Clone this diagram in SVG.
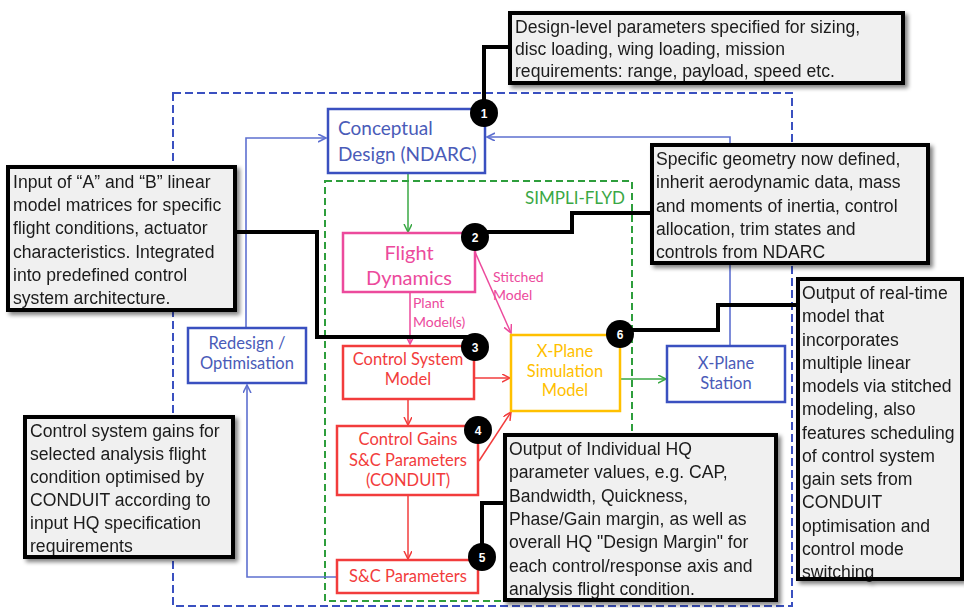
<svg xmlns="http://www.w3.org/2000/svg" width="964" height="608" viewBox="0 0 964 608">
<defs>
<style>
.co{fill:#f0f0f0;stroke:none}
.cob{fill:none;stroke:#000;stroke-width:4}
.ct{font-family:"Liberation Sans",Arial,sans-serif;font-size:17.6px;fill:#1a1a1a}
.lbl{font-family:Lato,"Open Sans",sans-serif;text-anchor:middle}
.bl{fill:none;stroke:#5e70d0;stroke-width:1.6}
.blk{fill:none;stroke:#000;stroke-width:4}
.bd{fill:#000}
.bt{font-family:"Liberation Sans",Arial,sans-serif;font-size:12px;font-weight:bold;fill:#fff;text-anchor:middle}
</style>
<filter id="sh" x="-10%" y="-10%" width="130%" height="130%">
<feGaussianBlur in="SourceAlpha" stdDeviation="2"/>
<feOffset dx="3" dy="3" result="o"/>
<feComponentTransfer><feFuncA type="linear" slope="0.5"/></feComponentTransfer>
<feMerge><feMergeNode/><feMergeNode in="SourceGraphic"/></feMerge>
</filter>
<marker id="aB" markerWidth="10" markerHeight="10" refX="8" refY="4" orient="auto" markerUnits="userSpaceOnUse"><path d="M0,0 L8,4 L0,8" fill="none" stroke="#5e70d0" stroke-width="1.6"/></marker>
<marker id="aG" markerWidth="10" markerHeight="10" refX="8" refY="4" orient="auto" markerUnits="userSpaceOnUse"><path d="M0,0 L8,4 L0,8" fill="none" stroke="#3aa845" stroke-width="1.5"/></marker>
<marker id="aP" markerWidth="10" markerHeight="10" refX="8" refY="4" orient="auto" markerUnits="userSpaceOnUse"><path d="M0,0 L8,4 L0,8" fill="none" stroke="#ec4a9c" stroke-width="1.5"/></marker>
<marker id="aR" markerWidth="10" markerHeight="10" refX="8" refY="4" orient="auto" markerUnits="userSpaceOnUse"><path d="M0,0 L8,4 L0,8" fill="none" stroke="#f23c3c" stroke-width="1.5"/></marker>
</defs>
<rect width="964" height="608" fill="#fff"/>

<g id="frames">
<rect x="173" y="93" width="619" height="513" fill="none" stroke="#3a50c0" stroke-width="2" stroke-dasharray="8,4"/>
<rect x="325" y="181" width="307" height="420" fill="none" stroke="#2e9e3c" stroke-width="2" stroke-dasharray="7,4"/>
<text x="625" y="204" class="lbl" style="text-anchor:end;font-size:17px;fill:#3aa845">SIMPLI-FLYD</text>
</g>

<g id="connectors">
<path class="bl" d="M246,328 V138 H326" marker-end="url(#aB)"/>
<path class="bl" d="M730,346 V137 H487" marker-end="url(#aB)"/>
<path class="bl" d="M337,577 H247 V385" marker-end="url(#aB)"/>
<path d="M408,173 V232" fill="none" stroke="#3aa845" stroke-width="1.5" marker-end="url(#aG)"/>
<path d="M620,379 H666" fill="none" stroke="#3aa845" stroke-width="1.5" marker-end="url(#aG)"/>
<path d="M410,292 V344" fill="none" stroke="#ec4a9c" stroke-width="1.5" marker-end="url(#aP)"/>
<path d="M475,252 L511,333" fill="none" stroke="#ec4a9c" stroke-width="1.5" marker-end="url(#aP)"/>
<path d="M474,378 H510" fill="none" stroke="#f23c3c" stroke-width="1.5" marker-end="url(#aR)"/>
<path d="M479,461 L511,412" fill="none" stroke="#f23c3c" stroke-width="1.5" marker-end="url(#aR)"/>
<path d="M408,399 V425" fill="none" stroke="#f23c3c" stroke-width="1.5" marker-end="url(#aR)"/>
<path d="M408,495 V559" fill="none" stroke="#f23c3c" stroke-width="1.5" marker-end="url(#aR)"/>
<text class="lbl" style="text-anchor:start;font-size:14px;fill:#ec4a9c"><tspan x="493" y="282">Stitched</tspan><tspan x="493" y="300">Model</tspan></text>
<text class="lbl" style="text-anchor:start;font-size:14px;fill:#ec4a9c"><tspan x="413" y="308">Plant</tspan><tspan x="413" y="327">Model(s)</tspan></text>
</g>

<g id="conceptual">
<rect x="328" y="109" width="157" height="64" fill="#fff" stroke="#3a50c0" stroke-width="2.5"/>
<text class="lbl" style="text-anchor:start;font-size:19px;fill:#4a5bb8"><tspan x="338" y="135">Conceptual</tspan><tspan x="338" y="161">Design (NDARC)</tspan></text>
</g>
<g id="flight-dynamics">
<rect x="343" y="233" width="132" height="59" fill="#fff" stroke="#ec4a9c" stroke-width="2.5"/>
<text class="lbl" style="font-size:20px;fill:#ec4a9c"><tspan x="409" y="260">Flight</tspan><tspan x="409" y="285">Dynamics</tspan></text>
</g>
<g id="control-system-model">
<rect x="343" y="346" width="131" height="53" fill="#fff" stroke="#f23c3c" stroke-width="2.5"/>
<text class="lbl" style="font-size:16.5px;fill:#f23c3c"><tspan x="408" y="365">Control System</tspan><tspan x="408" y="385">Model</tspan></text>
</g>
<g id="control-gains">
<rect x="337" y="426" width="141" height="69" fill="#fff" stroke="#f23c3c" stroke-width="2.5"/>
<text class="lbl" style="font-size:16.5px;fill:#f23c3c"><tspan x="408" y="445">Control Gains</tspan><tspan x="408" y="466">S&amp;C Parameters</tspan><tspan x="408" y="486">(CONDUIT)</tspan></text>
</g>
<g id="sc-parameters">
<rect x="337" y="560" width="141" height="33" fill="#fff" stroke="#f23c3c" stroke-width="2.5"/>
<text class="lbl" style="font-size:16.5px;fill:#f23c3c"><tspan x="408" y="582">S&amp;C Parameters</tspan></text>
</g>
<g id="redesign">
<rect x="188" y="328" width="118" height="55" fill="#fff" stroke="#3a50c0" stroke-width="2.5"/>
<text class="lbl" style="font-size:16.5px;fill:#4a5bb8"><tspan x="247" y="349">Redesign /</tspan><tspan x="247" y="369">Optimisation</tspan></text>
</g>
<g id="xplane-sim">
<rect x="511" y="335" width="109" height="76" fill="#fff" stroke="#ffc000" stroke-width="2.5"/>
<text class="lbl" style="font-size:16.5px;fill:#ffc000"><tspan x="565" y="357">X-Plane</tspan><tspan x="565" y="377">Simulation</tspan><tspan x="565" y="396">Model</tspan></text>
</g>
<g id="xplane-station">
<rect x="667" y="346" width="118" height="56" fill="#fff" stroke="#3a50c0" stroke-width="2.5"/>
<text class="lbl" style="font-size:16.5px;fill:#4a5bb8"><tspan x="726" y="369">X-Plane</tspan><tspan x="726" y="389">Station</tspan></text>
</g>

<g id="callout-lines">
<path class="blk" d="M484,113 V47 H512"/>
<path class="blk" d="M475,232 H572 V213 H652"/>
<path class="blk" d="M235,232 H317 V337 H475"/>
<path class="blk" d="M482,557 V503 H507"/>
<path class="blk" d="M620,330 H718 V305 H798"/>
</g>

<g id="callout-1" filter="url(#sh)">
<rect x="510" y="13" width="393" height="70" class="co"/>
<text class="ct"><tspan x="515" y="33">Design-level parameters specified for sizing,</tspan><tspan x="515" y="55">disc loading, wing loading, mission</tspan><tspan x="515" y="77">requirements: range, payload, speed etc.</tspan></text>
<rect x="510" y="13" width="393" height="70" class="cob"/>
</g>
<g id="callout-2" filter="url(#sh)">
<rect x="8" y="167" width="227" height="143" class="co"/>
<text class="ct"><tspan x="13" y="188">Input of “A” and “B” linear</tspan><tspan x="13" y="211">model matrices for specific</tspan><tspan x="13" y="234">flight conditions, actuator</tspan><tspan x="13" y="258">characteristics. Integrated</tspan><tspan x="13" y="281">into predefined control</tspan><tspan x="13" y="304">system architecture.</tspan></text>
<rect x="8" y="167" width="227" height="143" class="cob"/>
</g>
<g id="callout-3" filter="url(#sh)">
<rect x="652" y="145" width="276" height="118" class="co"/>
<text class="ct"><tspan x="656" y="165">Specific geometry now defined,</tspan><tspan x="656" y="188">inherit aerodynamic data, mass</tspan><tspan x="656" y="211.5">and moments of inertia, control</tspan><tspan x="656" y="235">allocation, trim states and</tspan><tspan x="656" y="258">controls from NDARC</tspan></text>
<rect x="652" y="145" width="276" height="118" class="cob"/>
</g>
<g id="callout-4" filter="url(#sh)">
<rect x="25" y="417" width="208" height="140" class="co"/>
<text class="ct"><tspan x="30" y="437">Control system gains for</tspan><tspan x="30" y="460">selected analysis flight</tspan><tspan x="30" y="483">condition optimised by</tspan><tspan x="30" y="506">CONDUIT  according to</tspan><tspan x="30" y="529">input HQ specification</tspan><tspan x="30" y="552">requirements</tspan></text>
<rect x="25" y="417" width="208" height="140" class="cob"/>
</g>
<g id="callout-5" filter="url(#sh)">
<rect x="505" y="435" width="271" height="165" class="co"/>
<text class="ct"><tspan x="509" y="455">Output of Individual HQ</tspan><tspan x="509" y="478">parameter values, e.g. CAP,</tspan><tspan x="509" y="502">Bandwidth, Quickness,</tspan><tspan x="509" y="525">Phase/Gain margin, as well as</tspan><tspan x="509" y="548">overall HQ "Design Margin" for</tspan><tspan x="509" y="572">each control/response axis and</tspan><tspan x="509" y="595">analysis flight condition.</tspan></text>
<rect x="505" y="435" width="271" height="165" class="cob"/>
</g>
<g id="callout-6" filter="url(#sh)">
<rect x="798" y="279" width="164" height="300" class="co"/>
<text class="ct"><tspan x="802" y="299">Output of real-time</tspan><tspan x="802" y="322">model that</tspan><tspan x="802" y="345.5">incorporates</tspan><tspan x="802" y="369">multiple linear</tspan><tspan x="802" y="392">models via stitched</tspan><tspan x="802" y="415">modeling, also</tspan><tspan x="802" y="438.5">features scheduling</tspan><tspan x="802" y="462">of control system</tspan><tspan x="802" y="485">gain sets from</tspan><tspan x="802" y="508">CONDUIT</tspan><tspan x="802" y="531.5">optimisation and</tspan><tspan x="802" y="555">control mode</tspan><tspan x="802" y="578">switching</tspan></text>
<rect x="798" y="279" width="164" height="300" class="cob"/>
</g>

<g id="badges">
<g id="badge-1"><circle cx="484" cy="113" r="14" class="bd"/><text x="484" y="117.5" class="bt">1</text></g>
<g id="badge-2"><circle cx="475" cy="237" r="14" class="bd"/><text x="475" y="241.5" class="bt">2</text></g>
<g id="badge-3"><circle cx="475" cy="347" r="14" class="bd"/><text x="475" y="351.5" class="bt">3</text></g>
<g id="badge-4"><circle cx="478" cy="430" r="14" class="bd"/><text x="478" y="434.5" class="bt">4</text></g>
<g id="badge-5"><circle cx="482" cy="557" r="14" class="bd"/><text x="482" y="561.5" class="bt">5</text></g>
<g id="badge-6"><circle cx="620" cy="334" r="14" class="bd"/><text x="620" y="338.5" class="bt">6</text></g>
</g>
</svg>
